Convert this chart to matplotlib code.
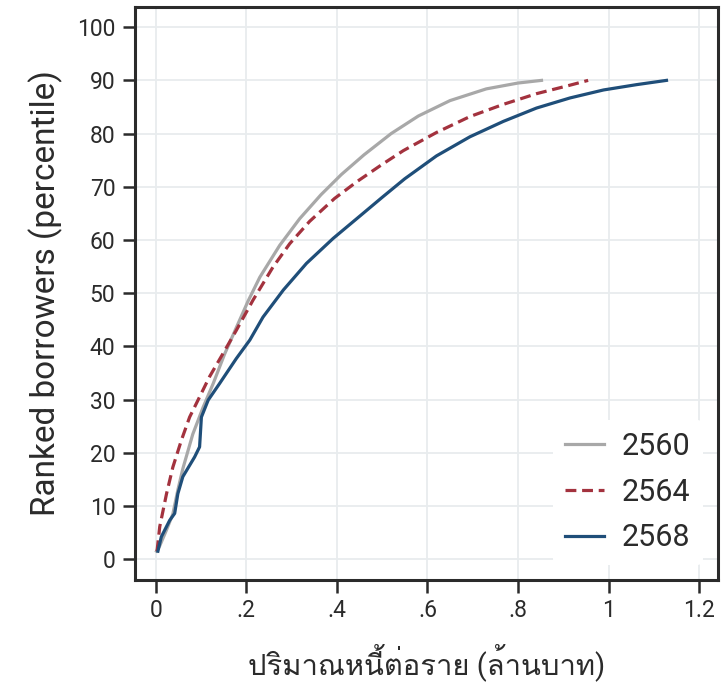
import matplotlib
matplotlib.use("Agg")
import matplotlib.pyplot as plt
from matplotlib import font_manager
from fontTools.ttLib import TTFont

# Cumulative distribution of debt per borrower (million baht) vs ranked percentile
x_2560 = [0.002, 0.009, 0.024, 0.038, 0.049, 0.060, 0.082, 0.105, 0.127, 0.152, 0.178,
          0.204, 0.230, 0.274, 0.318, 0.365, 0.410, 0.460, 0.520, 0.580, 0.650, 0.730,
          0.800, 0.852]
y_2560 = [1.5, 2.5, 5.5, 8.5, 13.0, 17.0, 23.5, 28.6, 33.0, 38.5, 43.5,
          48.5, 53.0, 59.0, 64.0, 68.5, 72.3, 76.0, 80.0, 83.3, 86.2, 88.4,
          89.5, 90.0]

x_2564 = [0.003, 0.009, 0.024, 0.038, 0.057, 0.075, 0.097, 0.119, 0.149, 0.178, 0.215,
          0.259, 0.296, 0.340, 0.395, 0.445, 0.500, 0.547, 0.620, 0.694, 0.768, 0.841,
          0.915, 0.955]
y_2564 = [1.5, 6.1, 12.3, 17.3, 22.4, 26.7, 30.5, 34.3, 38.7, 43.0, 48.7,
          54.9, 59.3, 63.5, 67.8, 71.0, 74.2, 76.8, 80.2, 83.2, 85.5, 87.5,
          89.1, 90.0]

x_2568 = [0.005, 0.0125, 0.031, 0.042, 0.049, 0.060, 0.086, 0.097, 0.101, 0.116, 0.141,
          0.178, 0.208, 0.237, 0.282, 0.333, 0.392, 0.451, 0.500, 0.550, 0.620, 0.694,
          0.768, 0.841, 0.915, 0.989, 1.062, 1.128]
y_2568 = [1.5, 4.2, 7.3, 8.6, 12.3, 15.5, 19.2, 21.1, 26.7, 29.9, 33.0,
          37.7, 41.2, 45.5, 50.6, 55.6, 60.3, 64.5, 68.0, 71.5, 75.8, 79.4,
          82.3, 84.8, 86.7, 88.2, 89.2, 90.0]

x_ticks = [0, 0.2, 0.4, 0.6, 0.8, 1.0, 1.2]
x_tick_labels = ["0", ".2", ".4", ".6", ".8", "1", "1.2"]
y_ticks = list(range(0, 101, 10))

x_label = "ปริมาณหนี้ต่อราย (ล้านบาท)"
y_label = "Ranked borrowers (percentile)"


def find_font_for(ch):
    for f in font_manager.fontManager.ttflist:
        try:
            tt = TTFont(f.fname, fontNumber=0, lazy=True)
            cmap = tt.getBestCmap()
            if cmap and ord(ch) in cmap:
                return f.name
        except Exception:
            continue
    return None


thai = find_font_for("ป")
families = ["Roboto"] + ([thai] if thai else []) + ["DejaVu Sans"]
plt.rcParams["font.family"] = families

ink = "#2b2b2b"
fig = plt.figure(figsize=(7.21, 6.97), dpi=100)
ax = fig.add_axes([0.187, 0.168, 0.809, 0.822])

lw = 2.3
ax.plot(x_2560, y_2560, color="#a8a8a8", lw=lw, label="2560", zorder=3)
ax.plot(x_2564, y_2564, color="#a3323e", lw=lw, ls=(0, (3.4, 1.8)), label="2564", zorder=4)
ax.plot(x_2568, y_2568, color="#1f4e79", lw=lw, label="2568", zorder=5)

ax.set_xlim(-0.046, 1.242)
ax.set_ylim(-3.9, 103.8)
ax.set_xticks(x_ticks)
ax.set_xticklabels(x_tick_labels)
ax.set_yticks(y_ticks)
ax.grid(True, color="#e8ecee", lw=1.3, zorder=0)
ax.set_axisbelow(True)

for s in ax.spines.values():
    s.set_color(ink)
    s.set_linewidth(2.2)
ax.tick_params(axis="both", direction="out", length=9, width=1.8, color=ink,
               labelcolor=ink, labelsize=16.5, pad=5)

ax.set_xlabel(x_label, fontsize=21, color=ink, labelpad=15)
ax.set_ylabel(y_label, fontsize=24, color=ink, labelpad=10)

leg = ax.legend(loc="lower right", frameon=True, fontsize=22, handlelength=1.25,
                handletextpad=0.6, labelspacing=0.55, borderaxespad=0.5,
                borderpad=0.4)
leg.get_frame().set_edgecolor("none")
leg.get_frame().set_facecolor("white")
leg.get_frame().set_alpha(1.0)
for t in leg.get_texts():
    t.set_color(ink)

fig.savefig("out.png", dpi=100)
